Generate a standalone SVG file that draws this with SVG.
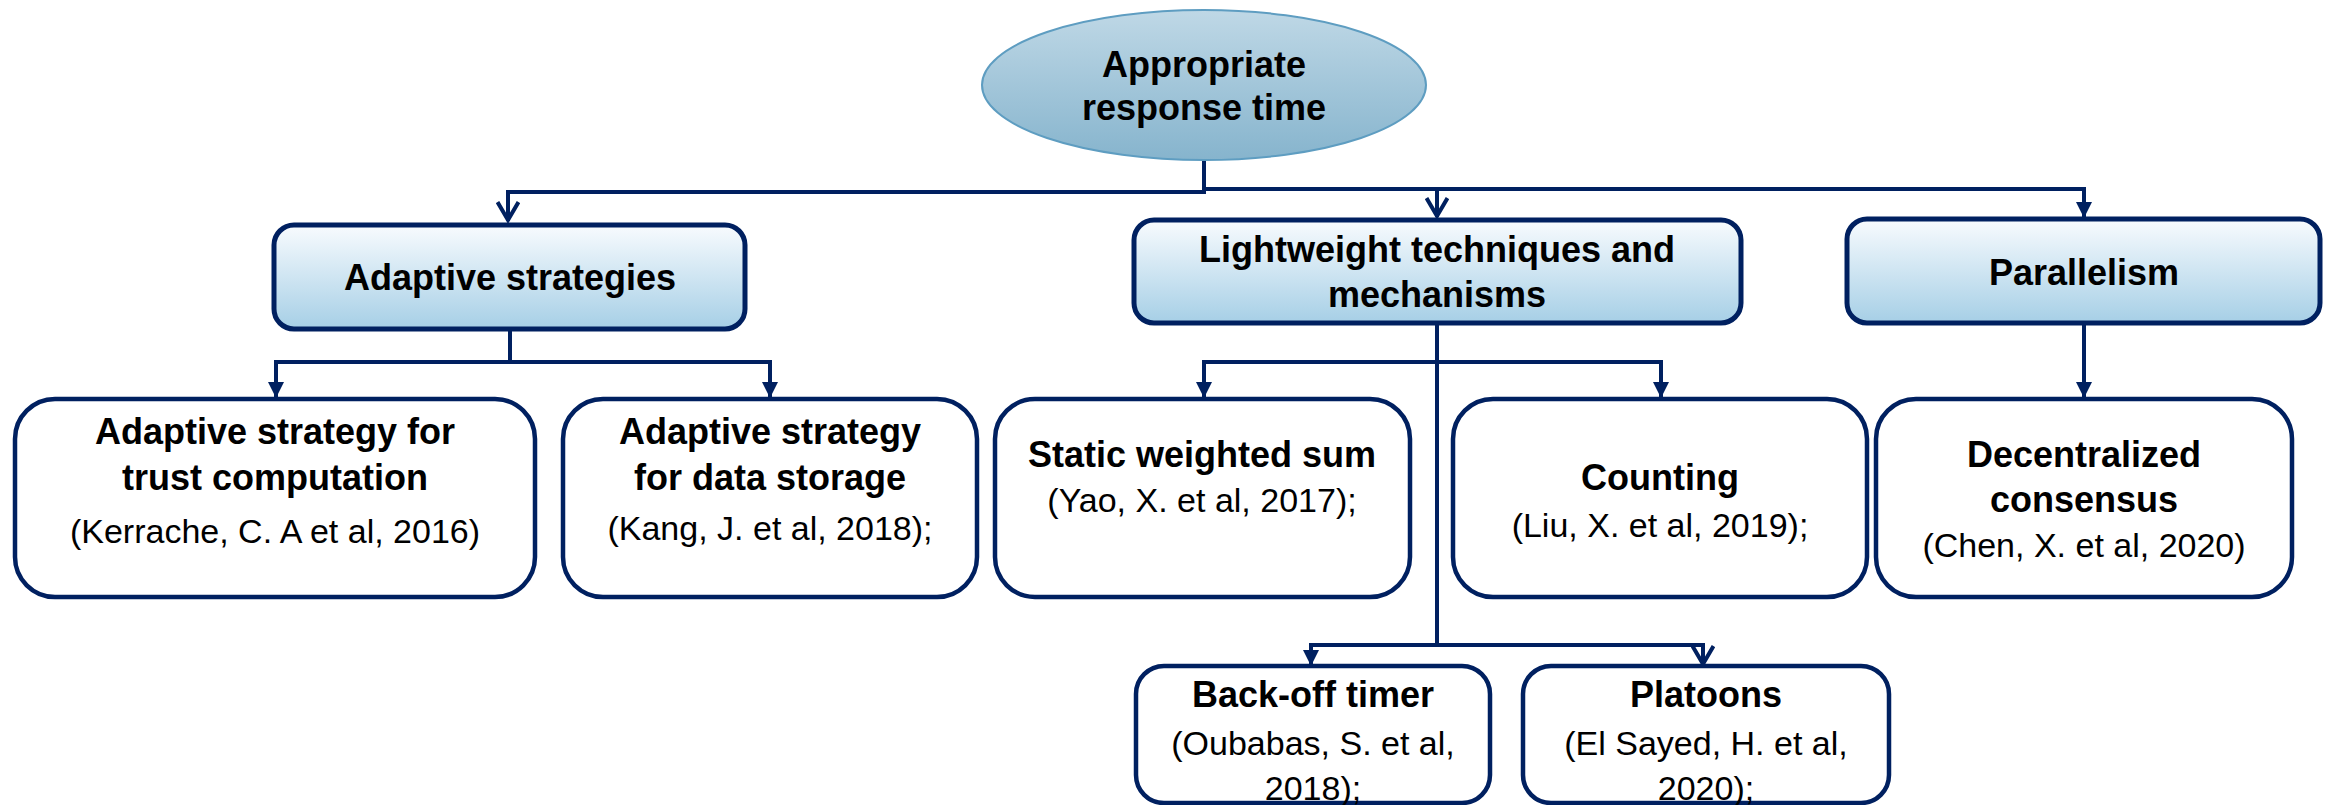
<svg xmlns="http://www.w3.org/2000/svg" width="2330" height="805" viewBox="0 0 2330 805">
<style>
.bold{font-family:"Liberation Sans",Arial,sans-serif;font-weight:bold;font-size:36px;fill:#000;text-anchor:middle}
.reg{font-family:"Liberation Sans",Arial,sans-serif;font-size:34px;fill:#000;text-anchor:middle}
.hdr{fill:url(#hdrGrad);stroke:#002060;stroke-width:5}
.leaf{fill:#fff;stroke:#002060;stroke-width:4.5}
.conn{fill:none;stroke:#002060;stroke-width:4}
</style>
<defs>
<linearGradient id="hdrGrad" x1="0" y1="0" x2="0" y2="1">
<stop offset="0" stop-color="#F8FBFE"/>
<stop offset="1" stop-color="#A6CFE6"/>
</linearGradient>
<linearGradient id="ellGrad" x1="0" y1="0" x2="0" y2="1">
<stop offset="0" stop-color="#BFD8E6"/>
<stop offset="1" stop-color="#86B4CD"/>
</linearGradient>
<marker id="open" viewBox="0 0 24 22" refX="12" refY="20" markerWidth="24" markerHeight="22" markerUnits="userSpaceOnUse">
<path d="M1.5,1 L12,19 L22.5,1" fill="none" stroke="#002060" stroke-width="4"/>
</marker>
<marker id="fill" viewBox="0 0 16 16" refX="8" refY="16" markerWidth="16" markerHeight="16" markerUnits="userSpaceOnUse">
<path d="M0,0 L16,0 L8,16 Z" fill="#002060"/>
</marker>
</defs>

<g id="connectors">
<path class="conn" d="M1204,160 V192 H508 V221" marker-end="url(#open)"/>
<path class="conn" d="M1204,189 H2084 V218" marker-end="url(#fill)"/>
<path class="conn" d="M1437,189 V217" marker-end="url(#open)"/>
<path class="conn" d="M510,329 V362 H276 V398" marker-end="url(#fill)"/>
<path class="conn" d="M510,362 H770 V398" marker-end="url(#fill)"/>
<path class="conn" d="M1437,323 V645"/>
<path class="conn" d="M1437,362 H1204 V398" marker-end="url(#fill)"/>
<path class="conn" d="M1437,362 H1661 V398" marker-end="url(#fill)"/>
<path class="conn" d="M2084,323 V398" marker-end="url(#fill)"/>
<path class="conn" d="M1437,645 H1311 V666" marker-end="url(#fill)"/>
<path class="conn" d="M1437,645 H1703 V665" marker-end="url(#open)"/>
</g>

<g id="root">
<ellipse cx="1204" cy="85" rx="222" ry="75" fill="url(#ellGrad)" stroke="#5E9DC1" stroke-width="2"/>
<text class="bold" x="1204" y="77">Appropriate</text>
<text class="bold" x="1204" y="120">response time</text>
</g>

<g id="adaptive-strategies">
<rect class="hdr" x="274" y="225" width="471" height="104" rx="20"/>
<text class="bold" x="510" y="290">Adaptive strategies</text>
</g>

<g id="lightweight">
<rect class="hdr" x="1134" y="220" width="607" height="103" rx="20"/>
<text class="bold" x="1437" y="262">Lightweight techniques and</text>
<text class="bold" x="1437" y="307">mechanisms</text>
</g>

<g id="parallelism">
<rect class="hdr" x="1847" y="219" width="473" height="104" rx="20"/>
<text class="bold" x="2084" y="285">Parallelism</text>
</g>

<g id="trust-computation">
<rect class="leaf" x="15" y="399" width="520" height="198" rx="40"/>
<text class="bold" x="275" y="444">Adaptive strategy for</text>
<text class="bold" x="275" y="490">trust computation</text>
<text class="reg" x="275" y="543">(Kerrache, C. A et al, 2016)</text>
</g>

<g id="data-storage">
<rect class="leaf" x="563" y="399" width="414" height="198" rx="40"/>
<text class="bold" x="770" y="444">Adaptive strategy</text>
<text class="bold" x="770" y="490">for data storage</text>
<text class="reg" x="770" y="540">(Kang, J. et al, 2018);</text>
</g>

<g id="static-weighted-sum">
<rect class="leaf" x="995" y="399" width="415" height="198" rx="40"/>
<text class="bold" x="1202" y="467">Static weighted sum</text>
<text class="reg" x="1202" y="512">(Yao, X. et al, 2017);</text>
</g>

<g id="counting">
<rect class="leaf" x="1453" y="399" width="414" height="198" rx="40"/>
<text class="bold" x="1660" y="490">Counting</text>
<text class="reg" x="1660" y="537">(Liu, X. et al, 2019);</text>
</g>

<g id="decentralized-consensus">
<rect class="leaf" x="1876" y="399" width="416" height="198" rx="40"/>
<text class="bold" x="2084" y="467">Decentralized</text>
<text class="bold" x="2084" y="512">consensus</text>
<text class="reg" x="2084" y="557">(Chen, X. et al, 2020)</text>
</g>

<g id="back-off-timer">
<rect class="leaf" x="1136" y="666" width="354" height="137" rx="28"/>
<text class="bold" x="1313" y="707">Back-off timer</text>
<text class="reg" x="1313" y="755">(Oubabas, S. et al,</text>
<text class="reg" x="1313" y="800">2018);</text>
</g>

<g id="platoons">
<rect class="leaf" x="1523" y="666" width="366" height="137" rx="28"/>
<text class="bold" x="1706" y="707">Platoons</text>
<text class="reg" x="1706" y="755">(El Sayed, H. et al,</text>
<text class="reg" x="1706" y="800">2020);</text>
</g>
</svg>
